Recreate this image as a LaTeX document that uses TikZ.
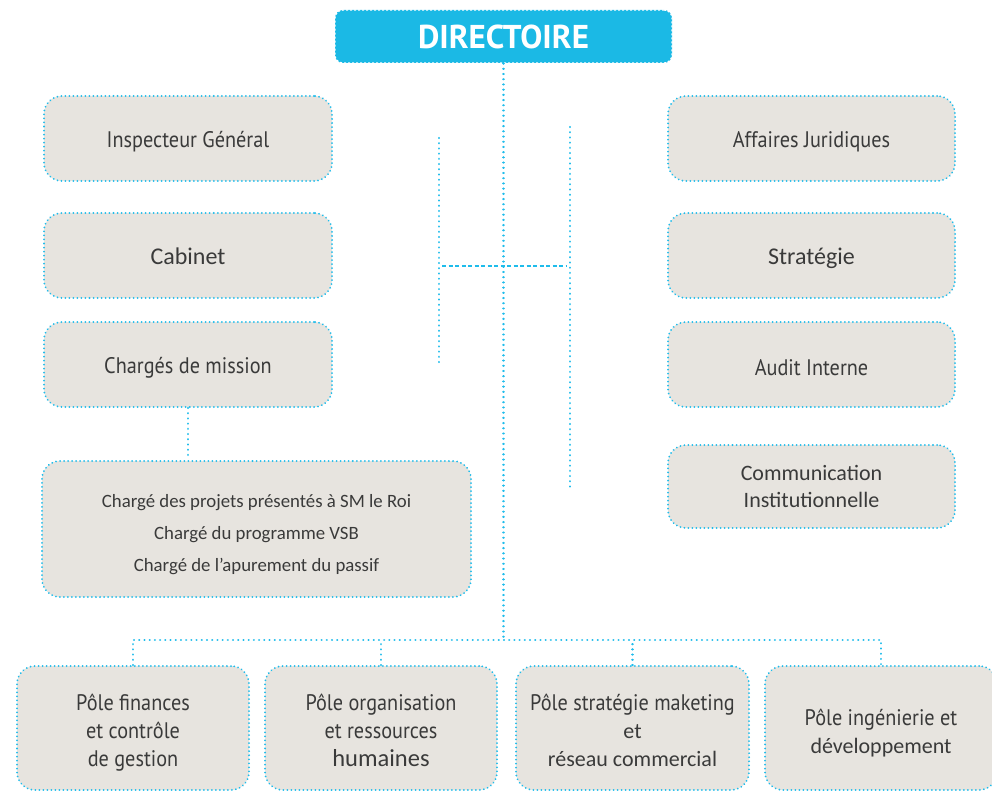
\documentclass[tikz,border=0pt]{standalone}
\usepackage{fontspec}
\setmainfont{Carlito}
\newfontfamily\cond[FakeStretch=0.9]{PT Sans}
\newfontfamily\headf{PT Sans}
\definecolor{boxfill}{HTML}{E7E4DF}
\definecolor{lineblue}{HTML}{1FBCEB}
\definecolor{headblue}{HTML}{1BB9E5}
\definecolor{textgray}{HTML}{3A3A3A}
\tikzset{
  box/.style={rounded corners=18pt, fill=boxfill, draw=lineblue, line width=2pt,
    dash pattern=on 0.01pt off 4pt, line cap=round, inner sep=0pt},
  txt/.style={align=center, text=textgray, inner sep=0pt},
  conn/.style={draw=lineblue, line width=2.3pt, dash pattern=on 0.01pt off 5.2pt, line cap=round},
  dconn/.style={draw=lineblue, line width=1.8pt, dash pattern=on 4pt off 2.5pt},
  cf/.style={txt, font=\cond\fontsize{22.5}{28}\selectfont},
  kf/.style={txt, font=\fontsize{24}{28}\selectfont}
}
\newcommand{\kk}[1]{{\normalfont\fontsize{22}{28}\selectfont #1}}
\begin{document}
\begin{tikzpicture}[x=1pt,y=-1pt]
\useasboundingbox (0,0) rectangle (992,791);
% head
\node[rounded corners=8pt, fill=headblue, draw=white, line width=1.2pt, dash pattern=on 2pt off 2pt,
  minimum width=337pt, minimum height=53pt, inner sep=0pt, text=white,
  font=\headf\bfseries\fontsize{33}{36}\selectfont] (dir) at (503.5,36.5) {DIRECTOIRE};
% left column
\node[box, minimum width=288pt, minimum height=85pt] (insp) at (188,138.5) {};
\node[cf] (inspt) at ([yshift=-3pt]insp.center) {Inspecteur Général};
\node[box, minimum width=288pt, minimum height=85pt] (cab) at (188,255.5) {};
\node[kf] (cabt) at ([yshift=-1pt]cab.center) {Cabinet};
\node[box, minimum width=288pt, minimum height=85pt] (cm) at (188,364.5) {};
\node[cf] (cmt) at ([yshift=-3pt]cm.center) {Chargés de mission};
\node[box, minimum width=429pt, minimum height=136pt] (big) at (256.5,529) {};
\node[txt, font=\fontsize{18.8}{32}\selectfont] (bigt) at ([yshift=-6pt]big.center)
  {Chargé des projets présentés à SM le Roi\\Chargé du programme VSB\\Chargé de l’apurement du passif};
% right column
\node[box, minimum width=287pt, minimum height=85pt] (aj) at (811.5,138.5) {};
\node[cf] (ajt) at ([yshift=-3pt]aj.center) {Affaires Juridiques};
\node[box, minimum width=287pt, minimum height=85pt] (str) at (811.5,255.5) {};
\node[kf] (strt) at ([yshift=-3pt]str.center) {Stratégie};
\node[box, minimum width=287pt, minimum height=85pt] (ai) at (811.5,364.5) {};
\node[cf] (ait) at ([yshift=-3pt]ai.center) {Audit Interne};
\node[box, minimum width=287pt, minimum height=83pt] (com) at (811.5,486.5) {};
\node[txt, font=\fontsize{22}{27}\selectfont] (comt) at (com.center) {Communication\\Institutionnelle};
% bottom
\node[box, minimum width=232pt, minimum height=124pt] (b1) at (133,728) {};
\node[cf] (b1t) at ([yshift=-5pt]b1.center) {Pôle finances\\et contrôle\\de gestion};
\node[box, minimum width=232pt, minimum height=124pt] (b2) at (381,728) {};
\node[cf] (b2t) at ([yshift=-2pt]b2.center) {Pôle organisation\\et ressources\\{\normalfont\fontsize{24.5}{28}\selectfont humaines}};
\node[box, minimum width=233pt, minimum height=124pt] (b3) at (632.5,728) {};
\node[cf] (b3t) at ([yshift=-2.5pt]b3.center) {Pôle stratégie maketing\\\kk{et}\\\kk{réseau commercial}};
\node[box, minimum width=232pt, minimum height=124pt] (b4) at (881,728) {};
\node[cf] (b4t) at ([yshift=-5pt]b4.center) {Pôle ingénierie et\\\kk{développement}};
% connectors
\draw[conn] (b1.north) -- ++(0,-25) coordinate (bl) -| (b4.north);
\draw[conn] (b2.north) -- (b2.north |- bl);
\draw[conn] (b3.north) -- (b3.north |- bl);
\draw[conn] (dir.south) -- (dir.south |- bl);
\draw[conn] (cm.south) -- (cm.south |- big.north);
\coordinate (lt) at (439,138);
\coordinate (lb) at (439,363);
\coordinate (rt) at (570,127);
\coordinate (rb) at (570,490);
\coordinate (hl) at (442,266);
\coordinate (hr) at (567,266);
\draw[conn] (lt) -- (lb);
\draw[conn] (rt) -- (rb);
\draw[dconn] (hl) -- (hr);
\end{tikzpicture}
\end{document}
